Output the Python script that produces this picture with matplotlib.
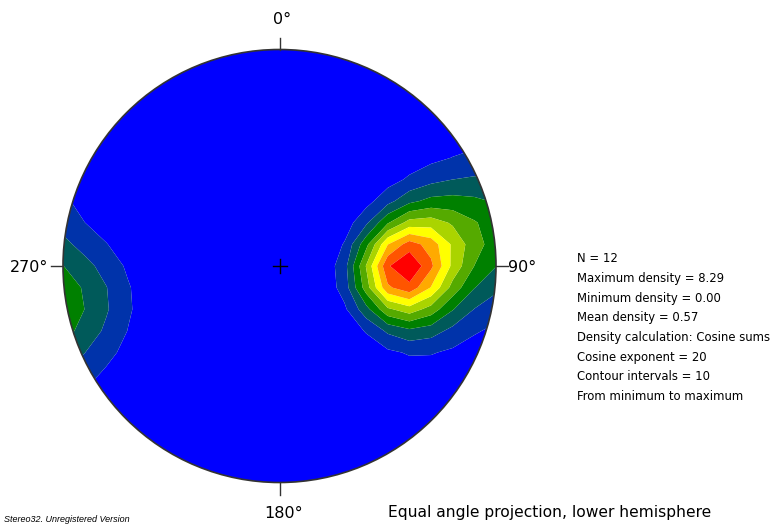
import numpy as np
import matplotlib
matplotlib.use("Agg")
import matplotlib.pyplot as plt
from matplotlib.patches import Circle

# ---- data: poles (trend, plunge) in degrees, read/ ----
pole_trends = [90, 93, 87, 96, 84, 100, 80, 75, 108, 93, 256, 266]
pole_plunges = [30, 33, 27, 28, 32, 35, 21, 16, 22, 40, 3, 3]
cos_exponent = 20
n_intervals = 10

contour_colors = ["#0000FF", "#0033AA", "#005A5A", "#008000", "#55AA00",
                  "#AAD400", "#FFFF00", "#FFAA00", "#FF5500", "#FF0000"]

stats_lines = ["N = 12", "Maximum density = 8.29", "Minimum density = 0.00",
               "Mean density = 0.57", "Density calculation: Cosine sums",
               "Cosine exponent = 20", "Contour intervals = 10",
               "From minimum to maximum"]
dir_labels = ["0°", "90°", "180°", "270°"]

# ---- figure in pixel coordinates ----
W, H = 774, 527
fig = plt.figure(figsize=(W / 100, H / 100), dpi=100)
ax = fig.add_axes([0, 0, 1, 1])
ax.set_xlim(0, W)
ax.set_ylim(H, 0)
ax.axis("off")

cx, cy, R = 279.5, 266.0, 216.5

# density on a grid in projected plane (equal angle, lower hemisphere)
t = np.radians(pole_trends)
p = np.radians(pole_plunges)
pv = np.stack([np.cos(p) * np.cos(t), np.cos(p) * np.sin(t), np.sin(p)], axis=1)

g = np.linspace(-1.1, 1.1, 23)
X, Y = np.meshgrid(g, g)  # X east, Y north
r = np.hypot(X, Y)
theta = 2 * np.arctan(r)
rs = np.where(r > 0, r, 1)
ux = np.where(r > 0, X / rs, 0)
uy = np.where(r > 0, Y / rs, 0)
gv = np.stack([np.sin(theta) * uy, np.sin(theta) * ux, np.cos(theta)], axis=-1)
dots = np.abs(gv @ pv.T)
dens = (cos_exponent + 1) / len(pole_trends) * np.sum(dots ** cos_exponent, axis=-1)

inside = r <= 1.0001
levels = np.linspace(dens[inside].min(), dens[inside].max(), n_intervals + 1)
levels[0] = -1
levels[-1] = dens.max() + 1

PX = cx + X * R
PY = cy - Y * R
cs = ax.contourf(PX, PY, dens, levels=levels, colors=contour_colors, antialiased=True)
clip = Circle((cx, cy), R, transform=ax.transData, facecolor="none")
cs.set_clip_path(clip)

ax.add_patch(Circle((cx, cy), R, facecolor="none", edgecolor="#333333", lw=1.2, zorder=3))

# center cross
ax.plot([cx - 7, cx + 7], [cy, cy], color="black", lw=1, zorder=4)
ax.plot([cx, cx], [cy - 7, cy + 7], color="black", lw=1, zorder=4)

# ticks at cardinal points
tl = 12
ax.plot([cx, cx], [cy - R, cy - R - tl], color="#333333", lw=1)
ax.plot([cx, cx], [cy + R, cy + R + tl], color="#333333", lw=1)
ax.plot([cx - R, cx - R - tl], [cy, cy], color="#333333", lw=1)
ax.plot([cx + R, cx + R + tl], [cy, cy], color="#333333", lw=1)

fs = 11.5
ax.text(cx + 3, 20, dir_labels[0], ha="center", va="center", fontsize=fs, family="DejaVu Sans")
ax.text(cx + R + 26, cy + 2, dir_labels[1], ha="center", va="center", fontsize=fs, family="DejaVu Sans")
ax.text(cx + 4, 514, dir_labels[2], ha="center", va="center", fontsize=fs, family="DejaVu Sans")
ax.text(29, cy + 2, dir_labels[3], ha="center", va="center", fontsize=fs, family="DejaVu Sans")

for i, line in enumerate(stats_lines):
    ax.text(577, 259 + i * 19.6, line, ha="left", va="center", fontsize=8.4, family="DejaVu Sans")

ax.text(388, 513, "Equal angle projection, lower hemisphere", ha="left", va="center",
        fontsize=11.2, family="DejaVu Sans")
ax.text(4, 520, "Stereo32. Unregistered Version", ha="left", va="center",
        fontsize=6.5, style="italic", family="Liberation Sans")

fig.savefig("out.png", dpi=100)
